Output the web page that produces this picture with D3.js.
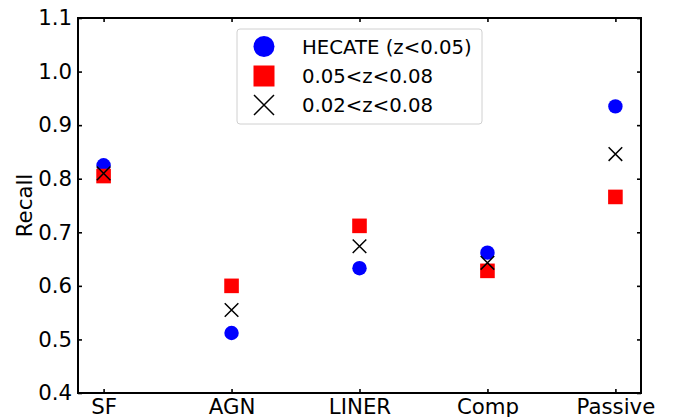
<!DOCTYPE html>
<html>
<head>
<meta charset="utf-8">
<script src="https://cdn.jsdelivr.net/npm/d3@7"></script>
<style>
  html, body { margin: 0; padding: 0; background: #fff; }
  svg { display: block; font-family: "DejaVu Sans", sans-serif; }
</style>
</head>
<body>
<svg id="chart" width="673" height="417"></svg>
<script>
// Recall per spectral class for three redshift samples
const categories = ["SF", "AGN", "LINER", "Comp", "Passive"];
const hecate = [0.825, 0.512, 0.633, 0.662, 0.935];      // HECATE (z<0.05)
const midZ = [0.805, 0.600, 0.712, 0.628, 0.766];        // 0.05<z<0.08
const wideZ = [0.810, 0.555, 0.674, 0.643, 0.846];       // 0.02<z<0.08
const yTicks = [0.4, 0.5, 0.6, 0.7, 0.8, 0.9, 1.0, 1.1];
const seriesNames = ["HECATE (z<0.05)", "0.05<z<0.08", "0.02<z<0.08"];

const svg = d3.select("#chart");
const margin = { left: 78, right: 32, top: 18, bottom: 24 };
const W = 673, H = 417;
const x0 = margin.left, x1 = W - margin.right;
const y0 = H - margin.bottom, y1 = margin.top;

const x = d3.scaleLinear().domain([-0.2, categories.length - 1 + 0.2]).range([x0, x1]);
const y = d3.scaleLinear().domain([0.4, 1.1]).range([y0, y1]);

const fontSize = 21.3;
const tickLen = 4;

// axes with inward ticks on all four sides
const axBottom = d3.axisBottom(x).tickValues(d3.range(categories.length))
  .tickFormat(i => categories[i]).tickSizeInner(-tickLen).tickSizeOuter(0).tickPadding(5.5);
const axTop = d3.axisTop(x).tickValues(d3.range(categories.length))
  .tickFormat("").tickSizeInner(-tickLen).tickSizeOuter(0);
const axLeft = d3.axisLeft(y).tickValues(yTicks).tickFormat(d3.format(".1f"))
  .tickSizeInner(-tickLen).tickSizeOuter(0).tickPadding(6);
const axRight = d3.axisRight(y).tickValues(yTicks).tickFormat("")
  .tickSizeInner(-tickLen).tickSizeOuter(0);

function styleAxis(g) {
  g.select(".domain").remove();
  g.selectAll(".tick line").attr("stroke", "#000").attr("stroke-width", 1.6);
  g.selectAll(".tick text").attr("fill", "#000").attr("font-size", fontSize)
    .attr("font-family", "DejaVu Sans, sans-serif");
}

svg.append("g").attr("transform", `translate(0,${y0})`).call(axBottom).call(styleAxis);
svg.append("g").attr("transform", `translate(0,${y1})`).call(axTop).call(styleAxis);
svg.append("g").attr("transform", `translate(${x0},0)`).call(axLeft).call(styleAxis);
svg.append("g").attr("transform", `translate(${x1},0)`).call(axRight).call(styleAxis);

// frame
svg.append("rect").attr("x", x0).attr("y", y1).attr("width", x1 - x0).attr("height", y0 - y1)
  .attr("fill", "none").attr("stroke", "#000").attr("stroke-width", 2);

// y label
svg.append("text").attr("transform", `translate(24,${(y0 + y1) / 2}) rotate(-90)`)
  .attr("text-anchor", "middle").attr("dy", "0.36em").attr("font-size", fontSize)
  .attr("fill", "#000").text("Recall");

const marks = svg.append("g");

// HECATE circles
marks.selectAll("circle.hecate").data(hecate).join("circle")
  .attr("class", "hecate")
  .attr("cx", (d, i) => x(i)).attr("cy", d => y(d)).attr("r", 7.2)
  .attr("fill", "#0000ff");

// squares
const sq = 14.6;
marks.selectAll("rect.midz").data(midZ).join("rect")
  .attr("class", "midz")
  .attr("x", (d, i) => x(i) - sq / 2).attr("y", d => y(d) - sq / 2)
  .attr("width", sq).attr("height", sq).attr("fill", "#ff0000");

// crosses
const cs = 6.8;
function crossPath(px, py, s) {
  return `M${px - s},${py - s}L${px + s},${py + s}M${px - s},${py + s}L${px + s},${py - s}`;
}
marks.selectAll("path.widez").data(wideZ).join("path")
  .attr("class", "widez")
  .attr("d", (d, i) => crossPath(x(i), y(d), cs))
  .attr("stroke", "#000").attr("stroke-width", 1.5).attr("fill", "none");

// legend
const lg = svg.append("g");
lg.append("rect").attr("x", 237).attr("y", 29).attr("width", 245).attr("height", 95)
  .attr("rx", 3).attr("fill", "#fff").attr("fill-opacity", 0.8)
  .attr("stroke", "#d0d0d0").attr("stroke-width", 1);
const rowY = [46.5, 76, 105];
const lx = 264;
lg.append("circle").attr("cx", lx).attr("cy", rowY[0]).attr("r", 10.5).attr("fill", "#0000ff");
lg.append("rect").attr("x", lx - 10.5).attr("y", rowY[1] - 10.5).attr("width", 21).attr("height", 21).attr("fill", "#ff0000");
lg.append("path").attr("d", crossPath(lx, rowY[2], 10)).attr("stroke", "#000").attr("stroke-width", 1.5);
lg.selectAll("text.lab").data(seriesNames).join("text")
  .attr("class", "lab")
  .attr("x", 302).attr("y", (d, i) => rowY[i]).attr("dy", "0.36em")
  .attr("font-size", 19.7).attr("fill", "#000").text(d => d);
</script>
</body>
</html>
